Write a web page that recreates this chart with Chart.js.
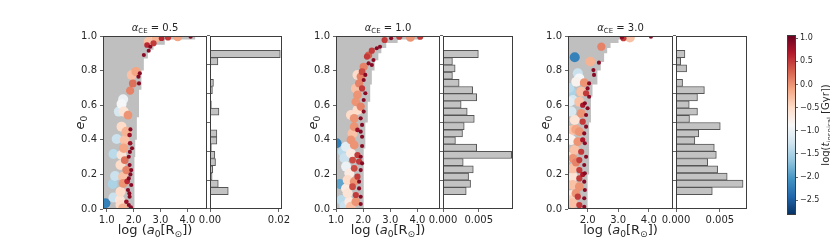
<!DOCTYPE html>
<html><head><meta charset="utf-8">
<script src="https://cdn.jsdelivr.net/npm/chart.js@4.4.0/dist/chart.umd.min.js"></script>
<style>
html,body{margin:0;padding:0;background:#fff;}
#wrap{position:relative;width:830px;height:240px;overflow:hidden;background:#fff;}
#wrap canvas{position:absolute;top:0;}
</style></head><body><div id="wrap"></div>
<script>
// ---------------- data ----------------
const eTicks = [0.0, 0.2, 0.4, 0.6, 0.8, 1.0];
const aTicks = [1.0, 2.0, 3.0, 4.0];
const alphaCE = ['0.5', '1.0', '3.0'];
const eBins = [0.025,0.075,0.125,0.175,0.225,0.275,0.325,0.375,0.425,0.475,0.525,0.575,0.625,0.675,0.725,0.775,0.825,0.875,0.925,0.975];

// panel 1 (alpha_CE = 0.5)
const p1Range = [0.86, 4.73];
const p1LogA = [2.56,2.68,2.86,3.04,3.28,3.64,4.12,2.50,2.62,2.74,2.38,2.56,2.09,1.93,2.23,2.18,1.97,2.20,1.87,1.61,1.55,1.45,1.63,1.79,1.55,1.73,1.85,1.37,1.67,1.87,1.94,1.63,1.25,1.55,1.82,1.67,1.51,1.85,1.73,1.91,1.31,1.61,1.82,1.22,1.61,1.91,1.79,1.51,1.25,1.49,1.85,1.73,0.95,1.51,1.82,1.61,1.88,1.86,1.88,1.84,1.90,1.76];
const p1Ecc  = [0.967,0.981,0.992,0.987,0.992,0.996,0.996,0.948,0.938,0.958,0.89,0.915,0.794,0.775,0.784,0.765,0.726,0.726,0.684,0.634,0.607,0.563,0.563,0.543,0.476,0.447,0.428,0.405,0.399,0.38,0.351,0.351,0.318,0.312,0.302,0.283,0.254,0.254,0.225,0.225,0.191,0.187,0.177,0.145,0.148,0.139,0.11,0.1,0.066,0.052,0.071,0.042,0.033,0.023,0.023,0.004,0.46,0.33,0.20,0.09,0.01,0.16];
const p1LogT = [-0.3,-0.6,-0.2,0.6,0.5,-0.1,0.9,0.6,0.9,0.5,0.9,0.9,-0.1,-0.3,0.9,0.9,0.2,0.9,0.1,-1.0,-0.9,-1.2,-0.6,0.0,-0.5,-0.2,0.8,-1.3,-0.3,0.8,0.9,-0.1,-1.4,-0.6,0.9,0.2,-0.5,0.9,0.1,0.9,-1.3,-0.3,0.9,-1.5,0.0,0.9,0.9,-0.5,-1.3,-0.6,0.9,0.8,-2.2,-0.5,0.9,-0.2,0.9,0.9,0.9,0.9,0.9,0.6];
const p1EdgeA = [2.03,2.06,2.12,2.20,2.29,2.38,2.53,2.74,3.16,4.30];
const p1EdgeE = [0.30,0.40,0.53,0.69,0.80,0.87,0.92,0.95,0.98,1.00];
const p1Hist = [0.0053,0.0024,0.0006,0.0008,0.0016,0.0014,0.0004,0.0020,0.0020,0.0001,0.0002,0.0026,0.0004,0.0002,0.0007,0.0010,0.0002,0.0000,0.0023,0.0204];
const p1HistRange = [0, 0.0209];
const p1HistTicks = [0.00, 0.02];

// panel 2 (alpha_CE = 1.0)
const p2Range = [1.0, 4.83];
const p2LogA = [4.10,3.74,3.33,3.03,2.79,2.62,2.50,2.32,2.20,2.14,2.38,2.20,2.02,2.32,1.96,1.79,1.91,2.08,2.02,1.85,1.73,1.96,2.08,2.02,1.79,1.73,1.91,1.79,2.02,1.55,1.67,1.91,1.96,1.67,1.79,1.91,1.61,1.55,1.96,1.02,1.37,1.67,1.96,1.25,1.55,1.79,1.91,1.31,1.61,1.85,1.96,1.37,1.67,1.91,1.49,1.79,1.43,1.67,1.85,1.14,1.61,1.37,1.85,1.43,1.73,1.91,1.20,1.49,1.73,1.91,1.31,1.55];
const p2Ecc  = [0.996,0.992,0.996,0.987,0.977,0.938,0.929,0.915,0.890,0.881,0.861,0.842,0.822,0.832,0.794,0.775,0.765,0.775,0.746,0.726,0.697,0.697,0.669,0.630,0.659,0.620,0.592,0.572,0.563,0.543,0.524,0.524,0.486,0.476,0.457,0.447,0.437,0.399,0.418,0.380,0.360,0.370,0.364,0.331,0.322,0.312,0.302,0.293,0.283,0.274,0.264,0.245,0.235,0.225,0.206,0.187,0.168,0.158,0.158,0.145,0.129,0.119,0.119,0.091,0.081,0.071,0.052,0.042,0.042,0.029,0.017,0.013];
const p2LogT = [0.5,0.0,0.5,0.9,0.5,0.9,0.9,0.5,0.3,0.5,0.9,0.9,0.1,0.9,0.4,-0.5,0.1,0.9,0.9,0.1,-0.3,0.5,0.9,0.9,0.0,0.0,0.1,-0.5,0.9,-0.5,0.0,0.9,0.9,0.0,0.8,0.9,-0.3,0.0,0.9,-2.2,-1.1,0.0,0.9,-1.4,-0.7,0.5,0.9,-1.3,0.4,0.5,0.9,-1.0,0.4,0.9,-0.7,0.5,-0.5,0.0,0.9,-1.9,0.4,-0.7,0.9,-0.6,0.5,0.9,-1.4,-0.7,0.0,0.9,-1.3,-0.3];
const p2EdgeA = [2.02,2.08,2.17,2.26,2.32,2.42,2.56,2.67,2.85,3.27,4.10];
const p2EdgeE = [0.35,0.50,0.62,0.72,0.80,0.86,0.90,0.93,0.96,0.98,1.00];
const p2Hist = [0.00325,0.00386,0.00358,0.00424,0.00283,0.00961,0.00471,0.00174,0.00273,0.00297,0.00438,0.00339,0.00254,0.00471,0.00415,0.00226,0.00132,0.00170,0.00132,0.00495];
const p2HistRange = [0, 0.0098];
const p2HistTicks = [0.000, 0.005];

// panel 3 (alpha_CE = 3.0)
const p3Range = [1.36, 4.79];
const p3LogA = [4.07,3.38,3.17,3.12,2.45,1.58,2.09,2.37,2.19,2.21,1.68,1.73,1.63,1.89,2.05,2.00,1.47,1.79,1.95,2.05,1.52,1.73,1.91,2.00,1.47,1.79,1.95,1.58,1.84,1.95,1.52,1.73,1.89,1.47,1.68,1.91,1.58,1.79,1.95,1.52,1.73,1.89,1.52,1.73,1.91,1.52,1.73,1.89,1.52,1.73,1.91,1.47,1.68,1.89,1.52,1.73,1.89,1.84,1.84,1.84,1.62,1.62,1.62,1.40,1.40,1.42,1.40,1.42];
const p3Ecc  = [0.996,0.992,0.987,0.992,0.938,0.877,0.852,0.846,0.803,0.775,0.784,0.755,0.736,0.730,0.726,0.697,0.678,0.678,0.669,0.649,0.630,0.620,0.611,0.582,0.563,0.553,0.543,0.514,0.505,0.476,0.457,0.447,0.437,0.399,0.389,0.380,0.341,0.331,0.302,0.293,0.283,0.254,0.235,0.225,0.206,0.187,0.177,0.158,0.139,0.129,0.110,0.081,0.071,0.062,0.033,0.023,0.013,0.600,0.400,0.200,0.460,0.270,0.090,0.700,0.620,0.450,0.300,0.050];
const p3LogT = [0.9,-0.3,0.5,0.9,0.1,-2.2,-0.2,0.9,0.9,0.9,-1.3,-0.9,-0.8,0.0,0.9,0.9,-1.5,-0.3,0.5,0.9,-1.2,-0.3,0.9,0.9,-1.2,0.0,0.9,-0.6,0.5,0.9,-0.3,0.0,0.9,-0.8,0.0,0.9,-0.3,0.5,0.9,0.0,0.5,0.9,-0.3,0.5,0.9,-0.6,0.5,0.9,-0.3,0.0,0.9,-0.7,0.5,0.9,-0.3,0.5,0.9,0.7,0.7,0.7,-0.1,0.1,0.0,-1.4,-1.1,-0.9,-0.5,-0.4];
const p3EdgeA = [2.00,2.05,2.11,2.16,2.32,2.43,2.54,2.64,2.75,3.01,3.12];
const p3EdgeE = [0.20,0.50,0.65,0.72,0.80,0.85,0.90,0.93,0.96,0.98,1.00];
const p3Hist = [0.00414,0.00765,0.00584,0.00475,0.00362,0.00460,0.00437,0.00215,0.00260,0.00505,0.00154,0.00245,0.00151,0.00245,0.00324,0.00075,0.00008,0.00121,0.00053,0.00102];
const p3HistRange = [0, 0.0081];
const p3HistTicks = [0.000, 0.005];

// colour bar
const cbRange = [-2.82, 1.07];
const cbTicks = [1.0, 0.5, 0.0, -0.5, -1.0, -1.5, -2.0, -2.5];

// ---------------- styling / helpers ----------------
const FONT = 'DejaVu Sans';
const FS = 10;       // tick labels / titles
const LFS = 13;      // axis labels
const TXT = '#262626';
const SPINE = '#3d3d3d';
const GRAY = '#bfbfbf';
const HFILL = '#c3c3c3';
const HEDGE = '#555555';
const RDBU_R = ['#053061','#2166ac','#4393c3','#92c5de','#d1e5f0','#f7f7f7','#fddbc7','#f4a582','#d6604d','#b2182b','#67001f'];

function hex(h){return [parseInt(h.substr(1,2),16),parseInt(h.substr(3,2),16),parseInt(h.substr(5,2),16)];}
function cmap(v){
  let t = (v - cbRange[0])/(cbRange[1]-cbRange[0]);
  t = Math.max(0, Math.min(1, t));
  const f = t*10, i = Math.min(9, Math.floor(f)), r = f - i;
  const a = hex(RDBU_R[i]), b = hex(RDBU_R[i+1]);
  const c = a.map((x,k)=>Math.round(x + (b[k]-x)*r));
  return `rgb(${c[0]},${c[1]},${c[2]})`;
}
function radiusFor(v){ return Math.max(2.0, Math.min(5.0, 4.4 - 2.6*v)); }

function drawRich(ctx, segs, x, y, rot, base){
  ctx.save();
  ctx.translate(x, y);
  ctx.rotate(rot || 0);
  ctx.fillStyle = TXT;
  ctx.textBaseline = 'alphabetic';
  ctx.textAlign = 'left';
  const fontOf = s => `${s.it ? 'italic ' : ''}${s.sub ? base*0.7 : base}px "${FONT}"`;
  let total = 0;
  const ws = segs.map(s => { ctx.font = fontOf(s); const w = ctx.measureText(s.t).width; total += w; return w; });
  let cx = -total/2;
  const by = base*0.36;
  segs.forEach((s,i) => { ctx.font = fontOf(s); ctx.fillText(s.t, cx, by + (s.sub ? base*0.28 : 0)); cx += ws[i]; });
  ctx.restore();
}

const deco = {
  id: 'deco',
  afterDraw(chart, args, opts){
    const ctx = chart.ctx, a = chart.chartArea;
    if (opts.frame){
      ctx.save();
      ctx.strokeStyle = SPINE; ctx.lineWidth = 1;
      ctx.strokeRect(a.left + 0.5, a.top + 0.5, a.right - a.left - 1, a.bottom - a.top - 1);
      ctx.restore();
    }
    (opts.texts || []).forEach(tx => drawRich(ctx, tx.segs, tx.x(a), tx.y(a), tx.rot, tx.size || FS));
  }
};

const wrap = document.getElementById('wrap');
function mkCanvas(left, width){
  const c = document.createElement('canvas');
  c.width = width; c.height = 240;
  c.style.left = left + 'px'; c.style.width = width + 'px'; c.style.height = '240px';
  wrap.appendChild(c);
  return c;
}

const tickFont = {family: FONT, size: FS};
const gridOpts = {display: true, drawOnChartArea: false, drawTicks: true, tickLength: 3, color: SPINE, lineWidth: 0.8};

function scatterPanel(L, R, range, xs, es, ts, edgeA, edgeE, title){
  const PADL = 60;
  const W = R - L;
  const cv = mkCanvas(L - PADL, W + PADL + 2);
  const pts = xs.map((x,i)=>({x: x, y: es[i], t: ts[i]})).sort((p,q)=>p.t - q.t);
  const gray = [{x: range[0], y: 0}].concat(edgeA.map((x,i)=>({x: x, y: edgeE[i]})));
  new Chart(cv, {
    type: 'scatter',
    data: {datasets: [
      {type: 'line', data: gray, stepped: 'before', fill: 'end', backgroundColor: GRAY,
       borderColor: 'rgba(0,0,0,0)', borderWidth: 0, pointRadius: 0, order: 2},
      {type: 'scatter', data: pts, order: 1, borderWidth: 0,
       backgroundColor: c => (c.raw ? cmap(c.raw.t) : '#888'),
       pointRadius: c => (c.raw ? radiusFor(c.raw.t) : 3)}
    ]},
    options: {
      responsive: false, animation: false, events: [], devicePixelRatio: 1,
      layout: {padding: {top: 36, right: 2, left: 0, bottom: 0}},
      plugins: {legend: {display: false}, tooltip: {enabled: false},
        deco: {frame: true, texts: [
          {segs: [{t:'α', it:true}, {t:'CE', sub:true}, {t:' = ' + title}], x: a => (a.left+a.right)/2, y: a => 27, size: FS},
          {segs: [{t:'log ('}, {t:'a', it:true}, {t:'0', sub:true}, {t:'[R'}, {t:'⊙', sub:true}, {t:'])'}], x: a => (a.left+a.right)/2, y: a => 229, size: LFS},
          {segs: [{t:'e', it:true}, {t:'0', sub:true}], x: a => a.left - 24, y: a => (a.top+a.bottom)/2, rot: -Math.PI/2, size: LFS}
        ]}},
      scales: {
        x: {type: 'linear', min: range[0], max: range[1],
            afterBuildTicks: s => { s.ticks = aTicks.filter(v => v >= range[0]-1e-9 && v <= range[1]).map(v => ({value: v})); },
            afterFit: s => { s.height = 31; },
            grid: gridOpts, border: {display: false},
            ticks: {font: tickFont, color: TXT, padding: 2, maxRotation: 0, autoSkip: false, callback: v => Number(v).toFixed(1)}},
        y: {type: 'linear', min: 0, max: 1,
            afterBuildTicks: s => { s.ticks = eTicks.map(v => ({value: v})); },
            afterFit: s => { s.width = PADL; },
            grid: gridOpts, border: {display: false},
            ticks: {font: tickFont, color: TXT, padding: 3, autoSkip: false, callback: v => Number(v).toFixed(1)}}
      }
    },
    plugins: [deco]
  });
}

function histPanel(L, R, vals, hrange, hticks, dec){
  const PADL = 20, PADR = 22;
  const cv = mkCanvas(L - PADL, R - L + PADL + PADR);
  new Chart(cv, {
    type: 'bar',
    data: {datasets: [{data: eBins.map((b,i)=>({x: vals[i], y: b})),
      backgroundColor: HFILL, borderColor: HEDGE, borderWidth: 1, borderSkipped: 'start',
      barPercentage: 1, categoryPercentage: 1}]},
    options: {
      indexAxis: 'y', responsive: false, animation: false, events: [], devicePixelRatio: 1,
      layout: {padding: {top: 36, right: PADR, left: 0, bottom: 0}},
      plugins: {legend: {display: false}, tooltip: {enabled: false}, deco: {frame: true}},
      scales: {
        x: {type: 'linear', min: hrange[0], max: hrange[1],
            afterBuildTicks: s => { s.ticks = hticks.map(v => ({value: v})); },
            afterFit: s => { s.height = 31; },
            grid: gridOpts, border: {display: false},
            ticks: {font: tickFont, color: TXT, padding: 2, maxRotation: 0, autoSkip: false, callback: v => Number(v).toFixed(dec)}},
        y: {type: 'linear', min: 0, max: 1,
            afterBuildTicks: s => { s.ticks = eTicks.map(v => ({value: v})); },
            afterFit: s => { s.width = PADL; },
            grid: gridOpts, border: {display: false},
            ticks: {display: false}}
      }
    },
    plugins: [deco]
  });
}

function colorbar(L, R){
  const CL = L - 20, CW = 830 - CL;
  const cv = mkCanvas(CL, CW);
  new Chart(cv, {
    type: 'bar',
    data: {labels: ['cb'], datasets: [{data: [[cbRange[0], cbRange[1]]], borderWidth: 0, borderSkipped: false,
      barPercentage: 1, categoryPercentage: 1,
      backgroundColor: c => {
        const a = c.chart.chartArea; if (!a) return '#ccc';
        const g = c.chart.ctx.createLinearGradient(0, a.bottom, 0, a.top);
        RDBU_R.forEach((col,i) => g.addColorStop(i/10, col));
        return g;
      }}]},
    options: {
      responsive: false, animation: false, events: [], devicePixelRatio: 1,
      layout: {padding: {top: 35, right: 0, left: 20, bottom: 25}},
      plugins: {legend: {display: false}, tooltip: {enabled: false},
        deco: {frame: true, texts: [
          {segs: [{t:'log('}, {t:'t', it:true}, {t:'inspiral', sub:true}, {t:' [Gyr])'}], x: a => a.right + 29.5, y: a => (a.top+a.bottom)/2, rot: -Math.PI/2, size: 10}
        ]}},
      scales: {
        x: {display: false},
        y: {position: 'right', min: cbRange[0], max: cbRange[1],
            afterBuildTicks: s => { s.ticks = cbTicks.map(v => ({value: v})); },
            afterFit: s => { s.width = CW - 20 - (R - L); },
            grid: Object.assign({}, gridOpts, {tickLength: 2}), border: {display: false},
            ticks: {font: {family: FONT, size: 8}, color: TXT, padding: 2, crossAlign: 'near', autoSkip: false,
                    callback: v => (v < 0 ? '\u2212' : '') + Math.abs(v).toFixed(1)}}
      }
    },
    plugins: [deco]
  });
}

scatterPanel(103, 210, p1Range, p1LogA, p1Ecc, p1LogT, p1EdgeA, p1EdgeE, alphaCE[0]);
histPanel(210, 282, p1Hist, p1HistRange, p1HistTicks, 2);
scatterPanel(336, 443, p2Range, p2LogA, p2Ecc, p2LogT, p2EdgeA, p2EdgeE, alphaCE[1]);
histPanel(443, 513, p2Hist, p2HistRange, p2HistTicks, 3);
scatterPanel(568, 676, p3Range, p3LogA, p3Ecc, p3LogT, p3EdgeA, p3EdgeE, alphaCE[2]);
histPanel(676, 747, p3Hist, p3HistRange, p3HistTicks, 3);
colorbar(787, 796);
</script>
</body></html>
